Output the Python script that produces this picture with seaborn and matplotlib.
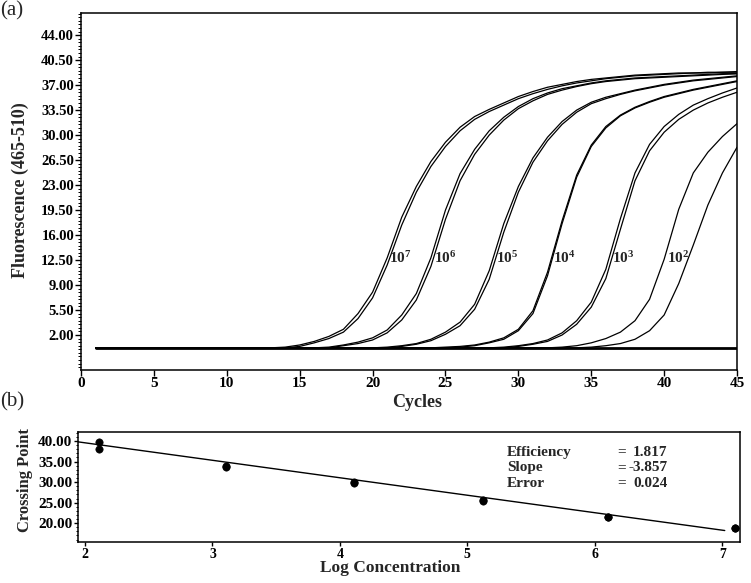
import numpy as np
import pandas as pd
import matplotlib
matplotlib.use("Agg")
import matplotlib.pyplot as plt
from matplotlib.ticker import MultipleLocator, FormatStrFormatter
import seaborn as sns

# ---- panel (a): amplification curves, two replicates per dilution ----
cycles = list(range(1, 46))

r7a = [0.2, 0.2, 0.2, 0.2, 0.2, 0.2, 0.2, 0.2, 0.2, 0.2, 0.2, 0.2, 0.2, 0.3, 0.6,
       1.1, 1.8, 2.8, 5.0, 8.0, 12.8, 18.5, 22.8, 26.3, 29.0, 31.1, 32.6, 33.6, 34.5, 35.4,
       36.1, 36.7, 37.1, 37.5, 37.8, 38.0, 38.2, 38.4, 38.5, 38.6, 38.7, 38.7, 38.8, 38.8, 38.9]
r7b = [0.2, 0.2, 0.2, 0.2, 0.2, 0.2, 0.2, 0.2, 0.2, 0.2, 0.2, 0.2, 0.2, 0.2, 0.4,
       0.9, 1.5, 2.4, 4.3, 7.2, 11.8, 17.4, 22.0, 25.6, 28.4, 30.6, 32.2, 33.3, 34.2, 35.1,
       35.8, 36.4, 36.9, 37.3, 37.6, 37.9, 38.1, 38.3, 38.4, 38.5, 38.6, 38.7, 38.7, 38.8, 38.8]
r6a = [0.2, 0.2, 0.2, 0.2, 0.2, 0.2, 0.2, 0.2, 0.2, 0.2, 0.2, 0.2, 0.2, 0.2, 0.2,
       0.2, 0.3, 0.6, 1.0, 1.6, 2.7, 4.8, 7.8, 12.8, 19.5, 24.6, 28.0, 30.6, 32.5, 34.0,
       35.1, 35.9, 36.5, 36.9, 37.3, 37.6, 37.8, 38.0, 38.1, 38.2, 38.3, 38.4, 38.5, 38.6, 38.6]
r6b = [0.2, 0.2, 0.2, 0.2, 0.2, 0.2, 0.2, 0.2, 0.2, 0.2, 0.2, 0.2, 0.2, 0.2, 0.2,
       0.2, 0.2, 0.5, 0.8, 1.3, 2.3, 4.1, 6.9, 11.6, 18.2, 23.6, 27.3, 30.0, 32.1, 33.7,
       34.8, 35.7, 36.3, 36.8, 37.2, 37.5, 37.7, 37.9, 38.0, 38.1, 38.2, 38.3, 38.4, 38.5, 38.6]
r5a = [0.2, 0.2, 0.2, 0.2, 0.2, 0.2, 0.2, 0.2, 0.2, 0.2, 0.2, 0.2, 0.2, 0.2, 0.2,
       0.2, 0.2, 0.2, 0.2, 0.2, 0.3, 0.5, 0.8, 1.4, 2.4, 3.8, 6.3, 11.0, 17.6, 22.8,
       26.8, 29.7, 31.9, 33.5, 34.6, 35.3, 35.8, 36.3, 36.7, 37.1, 37.4, 37.7, 37.9, 38.1, 38.3]
r5b = [0.2, 0.2, 0.2, 0.2, 0.2, 0.2, 0.2, 0.2, 0.2, 0.2, 0.2, 0.2, 0.2, 0.2, 0.2,
       0.2, 0.2, 0.2, 0.2, 0.2, 0.2, 0.4, 0.7, 1.2, 2.1, 3.3, 5.6, 9.8, 16.4, 22.0,
       26.2, 29.2, 31.5, 33.2, 34.4, 35.1, 35.7, 36.2, 36.6, 37.0, 37.3, 37.6, 37.8, 38.0, 38.2]
r4a = [0.2, 0.2, 0.2, 0.2, 0.2, 0.2, 0.2, 0.2, 0.2, 0.2, 0.2, 0.2, 0.2, 0.2, 0.2,
       0.2, 0.2, 0.2, 0.2, 0.2, 0.2, 0.2, 0.2, 0.2, 0.3, 0.4, 0.6, 1.0, 1.6, 2.8,
       5.4, 10.8, 18.0, 24.4, 28.6, 31.2, 32.8, 33.9, 34.7, 35.4, 35.9, 36.4, 36.8, 37.2, 37.6]
r4b = [0.2, 0.2, 0.2, 0.2, 0.2, 0.2, 0.2, 0.2, 0.2, 0.2, 0.2, 0.2, 0.2, 0.2, 0.2,
       0.2, 0.2, 0.2, 0.2, 0.2, 0.2, 0.2, 0.2, 0.2, 0.2, 0.3, 0.5, 0.9, 1.4, 2.6,
       5.0, 10.3, 17.6, 24.1, 28.4, 31.0, 32.7, 33.8, 34.6, 35.3, 35.8, 36.3, 36.7, 37.1, 37.5]
r3a = [0.2, 0.2, 0.2, 0.2, 0.2, 0.2, 0.2, 0.2, 0.2, 0.2, 0.2, 0.2, 0.2, 0.2, 0.2,
       0.2, 0.2, 0.2, 0.2, 0.2, 0.2, 0.2, 0.2, 0.2, 0.2, 0.2, 0.2, 0.2, 0.3, 0.5,
       0.8, 1.3, 2.3, 4.0, 6.6, 11.2, 18.3, 24.7, 28.7, 31.2, 32.9, 34.2, 35.1, 35.9, 36.6]
r3b = [0.2, 0.2, 0.2, 0.2, 0.2, 0.2, 0.2, 0.2, 0.2, 0.2, 0.2, 0.2, 0.2, 0.2, 0.2,
       0.2, 0.2, 0.2, 0.2, 0.2, 0.2, 0.2, 0.2, 0.2, 0.2, 0.2, 0.2, 0.2, 0.2, 0.4,
       0.7, 1.1, 2.0, 3.5, 5.9, 9.9, 16.8, 23.6, 27.8, 30.4, 32.2, 33.5, 34.5, 35.3, 36.0]
r2a = [0.2, 0.2, 0.2, 0.2, 0.2, 0.2, 0.2, 0.2, 0.2, 0.2, 0.2, 0.2, 0.2, 0.2, 0.2,
       0.2, 0.2, 0.2, 0.2, 0.2, 0.2, 0.2, 0.2, 0.2, 0.2, 0.2, 0.2, 0.2, 0.2, 0.2,
       0.2, 0.2, 0.3, 0.5, 0.9, 1.5, 2.4, 4.0, 7.0, 12.6, 19.6, 24.7, 27.6, 29.8, 31.6]
r2b = [0.2, 0.2, 0.2, 0.2, 0.2, 0.2, 0.2, 0.2, 0.2, 0.2, 0.2, 0.2, 0.2, 0.2, 0.2,
       0.2, 0.2, 0.2, 0.2, 0.2, 0.2, 0.2, 0.2, 0.2, 0.2, 0.2, 0.2, 0.2, 0.2, 0.2,
       0.2, 0.2, 0.2, 0.2, 0.3, 0.5, 0.8, 1.4, 2.6, 4.8, 9.2, 14.6, 20.2, 24.7, 28.3]
ntc = [0.2, 0.2, 0.2, 0.2, 0.2, 0.2, 0.2, 0.2, 0.2, 0.2, 0.2, 0.2, 0.2, 0.2, 0.2,
       0.2, 0.2, 0.2, 0.2, 0.2, 0.2, 0.2, 0.2, 0.2, 0.2, 0.2, 0.2, 0.2, 0.2, 0.2,
       0.2, 0.2, 0.2, 0.2, 0.2, 0.2, 0.2, 0.2, 0.2, 0.2, 0.2, 0.2, 0.2, 0.2, 0.2]

curve_labels = ['7', '6', '5', '4', '3', '2']
label_cycle = [21.1, 24.2, 28.5, 32.4, 36.4, 40.2]

# ---- panel (b): standard curve ----
log_conc = [2.11, 2.11, 3.11, 3.11, 4.11, 4.11, 5.12, 5.12, 6.10, 6.10, 7.10, 7.10]
crossing = [39.7, 38.1, 33.9, 33.7, 29.9, 29.8, 25.6, 25.5, 21.6, 21.4, 18.8, 18.7]
fit_x = [1.945, 7.02]
fit_y = [39.8, 18.2]
stats_names = ['Efficiency', 'Slope', 'Error']
stats_values = ['1.817', '-3.857', '0.024']

traces = {'r7a': r7a, 'r7b': r7b, 'r6a': r6a, 'r6b': r6b, 'r5a': r5a, 'r5b': r5b,
          'r4a': r4a, 'r4b': r4b, 'r3a': r3a, 'r3b': r3b, 'r2a': r2a, 'r2b': r2b}
df = pd.DataFrame([(name, c, v) for name, vals in traces.items() for c, v in zip(cycles, vals)],
                  columns=['trace', 'cycle', 'fluor'])

sns.set_theme(style='ticks')
plt.rcParams['font.family'] = ['Liberation Serif', 'DejaVu Serif']
plt.rcParams['font.weight'] = 'bold'
plt.rcParams['mathtext.fontset'] = 'custom'
plt.rcParams['mathtext.rm'] = 'Liberation Serif:bold'
plt.rcParams['mathtext.bf'] = 'Liberation Serif:bold'

fig = plt.figure(figsize=(7.51, 5.83), dpi=100)
ax1 = fig.add_axes([0.1079, 0.3654, 0.8735, 0.6123])
ax2 = fig.add_axes([0.1039, 0.0703, 0.8815, 0.1887])

# (a)
sns.lineplot(x=cycles, y=ntc, color='black', linewidth=2.0, ax=ax1)
sns.lineplot(data=df, x='cycle', y='fluor', units='trace', estimator=None,
             color='black', linewidth=0.9, ax=ax1, legend=False)
for lab, c in zip(curve_labels, label_cycle):
    ax1.text(c, 12.8, r'$\mathbf{10^{%s}}$' % lab, fontsize=11, ha='left', va='center')

ax1.set_xlim(0, 45)
ax1.set_ylim(-2.9, 47.1)
ax1.set_xticks(np.arange(0, 46, 5))
ax1.set_yticks(np.arange(2, 44.1, 3.5))
ax1.yaxis.set_major_formatter(FormatStrFormatter('%.2f'))
ax1.yaxis.set_minor_locator(MultipleLocator(0.5))
ax1.tick_params(axis='x', labelsize=11, length=4, width=1, pad=1, colors='black')
ax1.tick_params(axis='y', which='major', labelsize=10.5, length=4, width=1, pad=1, colors='black')
ax1.tick_params(axis='y', which='minor', length=2, width=0.7, colors='black')
ax1.set_xlabel('Cycles', fontsize=13, fontweight='bold')
ax1.set_ylabel('Fluorescence (465-510)', fontsize=13, fontweight='bold')
ax1.xaxis.set_label_coords(0.512, -0.068)
ax1.yaxis.set_label_coords(-0.079, 0.504)

# (b)
sns.lineplot(x=fit_x, y=fit_y, color='black', linewidth=1.0, ax=ax2)
sns.scatterplot(x=log_conc, y=crossing, color='black', s=28, edgecolor='black',
                ax=ax2, zorder=3)
ax2.set_xlim(1.945, 7.14)
ax2.set_ylim(15.4, 42.2)
ax2.set_xticks([2, 3, 4, 5, 6, 7])
ax2.set_yticks([20, 25, 30, 35, 40])
ax2.yaxis.set_major_formatter(FormatStrFormatter('%.2f'))
ax2.yaxis.set_minor_locator(MultipleLocator(1))
ax2.tick_params(axis='x', labelsize=10, length=3, width=1, pad=1, colors='black')
ax2.tick_params(axis='y', which='major', labelsize=11, length=3, width=1, pad=1, colors='black')
ax2.tick_params(axis='y', which='minor', length=1.5, width=0.7, colors='black')
ax2.set_xlabel('Log Concentration', fontsize=12.5, fontweight='bold')
ax2.set_ylabel('Crossing Point', fontsize=12, fontweight='bold')
ax2.xaxis.set_label_coords(0.471, -0.165)
ax2.yaxis.set_label_coords(-0.068, 0.56)

for ypos, name, val in zip([0.818, 0.673, 0.536], stats_names, stats_values):
    ax2.text(0.648, ypos, name, transform=ax2.transAxes, fontsize=11, va='center', ha='left')
    ax2.text(0.814, ypos, '=', transform=ax2.transAxes, fontsize=11, va='center', ha='left')
    ax2.text(0.89, ypos, val, transform=ax2.transAxes, fontsize=11, va='center', ha='right')

for ax in (ax1, ax2):
    for sp in ax.spines.values():
        sp.set_linewidth(1.1)
        sp.set_color('black')

fig.text(0.0, 0.998, '(a)', fontsize=15, fontweight='normal', ha='left', va='top')
fig.text(0.0, 0.328, '(b)', fontsize=15, fontweight='normal', ha='left', va='top')

fig.savefig('out.png', dpi=100)
